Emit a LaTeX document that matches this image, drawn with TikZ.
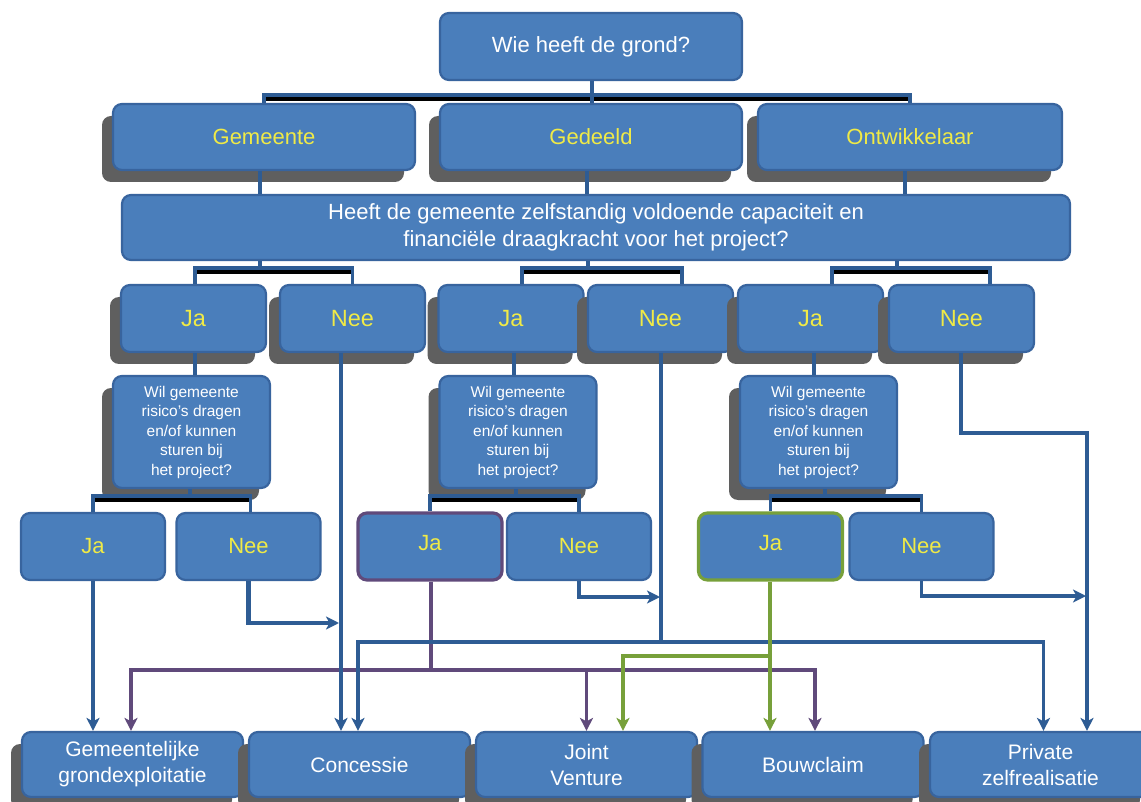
\documentclass[tikz,border=0pt]{standalone}
\usepackage{fontspec}
\setmainfont{Liberation Sans}
\usetikzlibrary{shadows,arrows.meta,calc}
\definecolor{boxfill}{RGB}{74,126,187}
\definecolor{boxline}{RGB}{56,100,158}
\definecolor{lineblue}{RGB}{46,92,148}
\definecolor{shadowgray}{RGB}{95,95,95}
\definecolor{ytext}{RGB}{240,234,70}
\definecolor{purp}{RGB}{96,74,123}
\definecolor{grn}{RGB}{119,160,58}
\begin{document}
\begin{tikzpicture}[x=1pt,y=-1pt,
 box/.style={draw=boxline, line width=2.2pt, fill=boxfill, rounded corners=9pt, inner sep=0pt, align=center, text=white},
 shad/.style={drop shadow={shadow xshift=-11pt, shadow yshift=-12pt, fill=shadowgray, opacity=1}},
 big/.style={box, font=\fontsize{22}{27}\selectfont},
 yes/.style={box, text=ytext, minimum width=145pt, minimum height=67pt, font=\fontsize{23.5}{28}\selectfont},
 ans/.style={box, text=ytext, minimum width=144pt, minimum height=67pt, font=\fontsize{22}{26}\selectfont},
 ques/.style={box, shad, minimum width=157pt, minimum height=112pt, font=\fontsize{15.5}{19.5}\selectfont},
 res/.style={box, shad, minimum width=221pt, minimum height=65pt, font=\fontsize{21}{26}\selectfont},
 conn/.style={draw=lineblue, line width=3.2pt},
 bshadow/.style={draw=black, line width=4.5pt},
 arr/.style={conn, -{Stealth[length=13pt,width=13pt,inset=3.5pt]}},
 parr/.style={draw=purp, line width=3.6pt, -{Stealth[length=13pt,width=13pt,inset=3.5pt]}},
 garr/.style={draw=grn, line width=4pt, -{Stealth[length=13pt,width=13pt,inset=3.5pt]}}
]
\useasboundingbox (0,0) rectangle (1141,802);
\fill[white] (0,0) rectangle (1141,802);

\coordinate (b0) at (592,95);
\coordinate (g1) at (260,268);
\coordinate (g2) at (588,268);
\coordinate (g3) at (897,268);
\coordinate (q1b) at (190,496);
\coordinate (q2b) at (516,496);
\coordinate (q3b) at (825,496);

% ---------- nodes ----------
\node[big, minimum width=302pt, minimum height=67pt] (top) at (591,46.5) {Wie heeft de grond?};

\node[big, shad, text=ytext, minimum width=302pt, minimum height=66pt] (gem) at (264,137) {Gemeente};
\node[big, shad, text=ytext, minimum width=302pt, minimum height=66pt] (ged) at (591,137) {Gedeeld};
\node[big, shad, text=ytext, minimum width=304pt, minimum height=66pt] (ont) at (910,137) {Ontwikkelaar};

\node[big, minimum width=948pt, minimum height=65pt] (cap) at (596,227.5) {Heeft de gemeente zelfstandig voldoende capaciteit en\\financiële draagkracht voor het project?};

\node[yes, shad] (ja1) at (193.5,318.5) {Ja};
\node[yes, shad] (nee1) at (352.5,318.5) {Nee};
\node[yes, shad] (ja2) at (511,318.5) {Ja};
\node[yes, shad] (nee2) at (660.5,318.5) {Nee};
\node[yes, shad] (ja3) at (810.5,318.5) {Ja};
\node[yes, shad] (nee3) at (961.5,318.5) {Nee};

\node[ques] (q1) at (191.5,432) {Wil gemeente\\risico's dragen\\en/of kunnen\\sturen bij\\het project?};
\node[ques] (q2) at (518,432) {Wil gemeente\\risico's dragen\\en/of kunnen\\sturen bij\\het project?};
\node[ques] (q3) at (818.5,432) {Wil gemeente\\risico's dragen\\en/of kunnen\\sturen bij\\het project?};

\node[ans] (ja4) at (93,546.5) {Ja};
\node[ans] (nee4) at (248.5,546.5) {Nee};
\node[ans, draw=purp, line width=3.2pt] (ja5) at (430,546.5) {\raisebox{8pt}{Ja}};
\node[ans] (nee5) at (579,546.5) {Nee};
\node[ans, draw=grn, line width=3.2pt] (ja6) at (770.5,546.5) {\raisebox{8pt}{Ja}};
\node[ans] (nee6) at (921.5,546.5) {Nee};

\node[res] (r1) at (132.5,764.5) {Gemeentelijke\\grondexploitatie};
\node[res] (r2) at (359.5,764.5) {Concessie};
\node[res] (r3) at (586.5,764.5) {Joint\\Venture};
\node[res] (r4) at (813,764.5) {Bouwclaim};
\node[res] (r5) at (1040.5,764.5) {Private\\zelfrealisatie};

% ---------- black bar shadows ----------
\draw[bshadow] (264,98.5) -- (908,98.5);
\draw[bshadow] (195,271.5) -- (352,271.5);
\draw[bshadow] (522,271.5) -- (682,271.5);
\draw[bshadow] (832,271.5) -- (990,271.5);
\draw[bshadow] (94,499.5) -- (250,499.5);
\draw[bshadow] (431,499.5) -- (580,499.5);
\draw[bshadow] (771,499.5) -- (921,499.5);

% ---------- tree connectors ----------
\draw[conn] (top.south -| b0) -- (b0);
\draw[conn] (gem.north) |- (b0) -| (ont.north);
\draw[conn] (ged.north -| b0) -- (b0);

\draw[conn] ([xshift=-4pt]gem.south) -- ([xshift=-4pt]gem.south |- cap.north);
\draw[conn] ([xshift=-4pt]ged.south) -- ([xshift=-4pt]ged.south |- cap.north);
\draw[conn] ([xshift=-5pt]ont.south) -- ([xshift=-5pt]ont.south |- cap.north);

\draw[conn] (cap.south -| g1) -- (g1);
\draw[conn] ([xshift=1.5pt]ja1.north) |- (g1) -| (nee1.north);
\draw[conn] (cap.south -| g2) -- (g2);
\draw[conn] ([xshift=11pt]ja2.north) |- (g2) -| ([xshift=21.5pt]nee2.north);
\draw[conn] (cap.south -| g3) -- (g3);
\draw[conn] ([xshift=21.5pt]ja3.north) |- (g3) -| ([xshift=28.5pt]nee3.north);

\draw[conn] ([xshift=1.5pt]ja1.south) -- ([xshift=1.5pt]ja1.south |- q1.north);
\draw[conn] ([xshift=3pt]ja2.south) -- ([xshift=3pt]ja2.south |- q2.north);
\draw[conn] ([xshift=3.5pt]ja3.south) -- ([xshift=3.5pt]ja3.south |- q3.north);

\draw[conn] (q1.south -| q1b) -- (q1b);
\draw[conn] (ja4.north) |- (q1b) -| ([xshift=2pt]nee4.north);
\draw[conn] (q2.south -| q2b) -- (q2b);
\draw[conn] (ja5.north) |- (q2b) -| (nee5.north);
\draw[conn] (q3.south -| q3b) -- (q3b);
\draw[conn] (ja6.north) |- (q3b) -| (nee6.north);

% ---------- result arrows ----------
\coordinate (n4end) at (339,623);
\coordinate (h2) at (661,642);
\coordinate (n5end) at (660,597);
\coordinate (c3) at (1087,433);
\coordinate (n6end) at (1086,596);
\coordinate (pj) at (431,670);
\coordinate (gj) at (770,656);

% purple
\draw[draw=purp, line width=3.6pt] (ja5.south -| pj) -- (pj);
\draw[parr] (pj) -| ([xshift=-1.5pt]r1.north);
\draw[parr] (pj) -| (r3.north);
\draw[parr] (pj) -| ([xshift=2pt]r4.north);

% blue
\draw[arr] (ja4.south) -- (ja4.south |- r1.north);
\draw[arr, line width=4.8pt] (nee4.south) |- (n4end);
\draw[arr] ([xshift=-11.5pt]nee1.south) -- ([xshift=-11.5pt]nee1.south |- r2.north);
\draw[conn] (nee2.south -| h2) -- (h2);
\draw[arr] (h2) -| ([xshift=-1.5pt]r2.north);
\draw[arr] (h2) -| ([xshift=3pt]r5.north);
\draw[arr] (nee5.south) |- (n5end);
\draw[arr] (nee3.south -| 961,0) |- (c3) -- (c3 |- r5.north);
\draw[arr] (nee6.south) |- (n6end);

% green
\draw[garr] (ja6.south -| gj) -- (gj |- r4.north);
\draw[garr] (gj) -| ([xshift=36.5pt]r3.north);
\end{tikzpicture}
\end{document}
